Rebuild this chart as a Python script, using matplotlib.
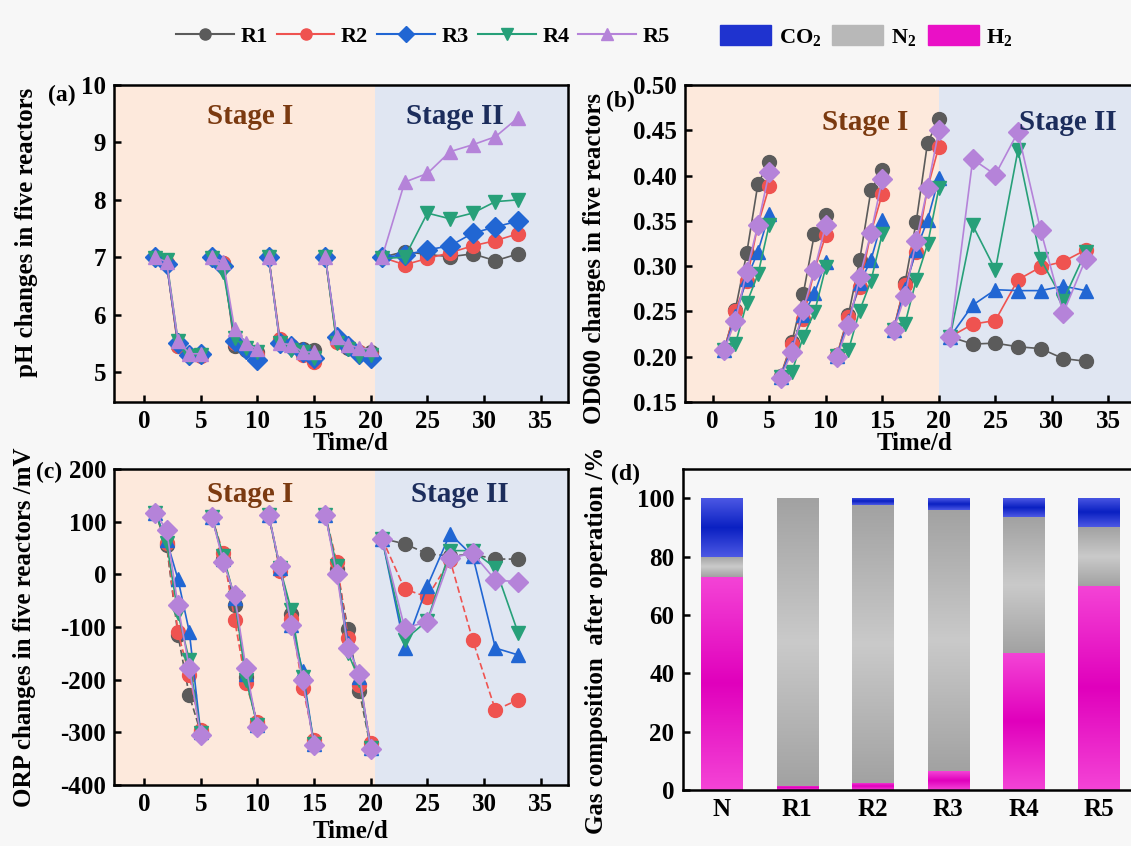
import matplotlib
matplotlib.use('Agg')
import matplotlib.pyplot as plt
import numpy as np
from matplotlib.lines import Line2D
from matplotlib.patches import Patch
from matplotlib.colors import LinearSegmentedColormap

plt.rcParams['font.family'] = ['Liberation Serif', 'DejaVu Serif']
plt.rcParams['font.weight'] = 'bold'
plt.rcParams['axes.labelweight'] = 'bold'
plt.rcParams['axes.unicode_minus'] = False
plt.rcParams['mathtext.fontset'] = 'custom'
plt.rcParams['mathtext.rm'] = 'Liberation Serif:bold'
plt.rcParams['mathtext.bf'] = 'Liberation Serif:bold'

# sampling days: four batch cycles in stage I, then stage II
days = [[1, 2, 3, 4, 5], [6, 7, 8, 9, 10], [11, 12, 13, 14, 15], [16, 17, 18, 19, 20],
        [21, 23, 25, 27, 29, 31, 33]]

# (a) pH
ph_r1 = [[7.0, 6.9, 5.45, 5.3, 5.3], [7.0, 6.9, 5.45, 5.38, 5.35], [7.0, 5.52, 5.45, 5.4, 5.38],
         [7.0, 5.55, 5.42, 5.35, 5.35], [7.0, 7.1, 7.05, 7.01, 7.06, 6.94, 7.06]]
ph_r2 = [[7.0, 6.9, 5.45, 5.3, 5.28], [7.0, 6.9, 5.5, 5.4, 5.3], [7.0, 5.58, 5.45, 5.3, 5.18],
         [7.0, 5.52, 5.45, 5.35, 5.3], [7.0, 6.87, 6.98, 7.08, 7.2, 7.29, 7.41]]
ph_r3 = [[7.0, 6.88, 5.5, 5.3, 5.32], [7.0, 6.85, 5.55, 5.4, 5.22], [7.0, 5.5, 5.45, 5.35, 5.25],
         [7.0, 5.62, 5.45, 5.32, 5.25], [7.0, 7.04, 7.13, 7.2, 7.42, 7.53, 7.63]]
ph_r4 = [[6.98, 6.95, 5.55, 5.28, 5.3], [6.98, 6.75, 5.6, 5.42, 5.35], [7.0, 5.5, 5.38, 5.35, 5.25],
         [7.0, 5.5, 5.4, 5.28, 5.3], [6.98, 7.0, 7.77, 7.67, 7.77, 7.97, 8.0]]
ph_r5 = [[7.0, 6.92, 5.55, 5.32, 5.32], [7.0, 6.92, 5.75, 5.5, 5.4], [7.0, 5.5, 5.48, 5.35, 5.35],
         [7.0, 5.62, 5.48, 5.42, 5.4], [7.0, 8.31, 8.46, 8.84, 8.96, 9.1, 9.43]]

# (b) OD600
od_r1 = [[0.207, 0.252, 0.314, 0.391, 0.415], [0.179, 0.216, 0.269, 0.336, 0.356],
         [0.202, 0.246, 0.307, 0.384, 0.406], [0.23, 0.281, 0.349, 0.436, 0.462],
         [0.222, 0.214, 0.215, 0.211, 0.209, 0.198, 0.195]]
od_r2 = [[0.207, 0.251, 0.284, 0.346, 0.388], [0.178, 0.214, 0.242, 0.296, 0.334],
         [0.202, 0.244, 0.277, 0.337, 0.38], [0.231, 0.279, 0.316, 0.386, 0.432],
         [0.222, 0.236, 0.24, 0.285, 0.299, 0.305, 0.318]]
od_r3 = [[0.207, 0.245, 0.286, 0.316, 0.358], [0.178, 0.21, 0.246, 0.27, 0.305],
         [0.201, 0.24, 0.281, 0.307, 0.351], [0.23, 0.275, 0.318, 0.351, 0.397],
         [0.222, 0.257, 0.274, 0.273, 0.273, 0.278, 0.273]]
od_r4 = [[0.207, 0.214, 0.259, 0.291, 0.346], [0.178, 0.183, 0.222, 0.249, 0.299],
         [0.201, 0.207, 0.251, 0.284, 0.336], [0.23, 0.236, 0.285, 0.324, 0.386],
         [0.222, 0.345, 0.296, 0.428, 0.308, 0.262, 0.316]]
od_r5 = [[0.207, 0.24, 0.294, 0.346, 0.404], [0.177, 0.205, 0.252, 0.296, 0.346],
         [0.2, 0.235, 0.288, 0.337, 0.396], [0.23, 0.267, 0.328, 0.386, 0.45],
         [0.222, 0.418, 0.401, 0.448, 0.34, 0.248, 0.308]]

# (c) ORP, mV
orp_r1 = [[117, 55, -115, -230, -300], [108, 30, -58, -195, -285], [113, 12, -75, -200, -322],
          [113, 10, -104, -222, -330], [68, 58, 39, 35, 38, 29, 29]]
orp_r2 = [[117, 60, -110, -191, -295], [108, 40, -87, -207, -280], [113, 6, -85, -215, -315],
          [113, 24, -120, -210, -320], [68, -28, -43, 27, -125, -258, -238]]
orp_r3 = [[117, 65, -9, -109, -300], [108, 30, -45, -190, -287], [113, 12, -96, -183, -322],
          [113, 10, -130, -195, -330], [68, -140, -22, 77, 35, -140, -153]]
orp_r4 = [[117, 60, -74, -163, -302], [108, 35, -45, -200, -287], [113, 12, -68, -195, -322],
          [113, 15, -150, -200, -330], [68, -124, -88, 45, 45, 12, -111]]
orp_r5 = [[117, 84, -59, -178, -305], [108, 24, -40, -178, -289], [113, 15, -96, -201, -324],
          [113, 1, -139, -189, -332], [68, -102, -90, 31, 40, -11, -14]]

# (d) gas composition, %
reactors = ['N', 'R1', 'R2', 'R3', 'R4', 'R5']
gas_h2 = [73, 1.5, 2.5, 6.5, 47, 70]
gas_n2 = [7, 98.5, 95, 89.5, 46.5, 20]
gas_co2 = [20, 0, 2.5, 4, 6.5, 10]

names = ['R1', 'R2', 'R3', 'R4', 'R5']
colors = ['#5b5b5b', '#ef5350', '#2166d3', '#27a079', '#b583d9']

bg = '#f7f7f7'
peach = '#fde9dc'
lblue = '#e0e6f2'

fig = plt.figure(figsize=(11.31, 8.46), dpi=100, facecolor=bg)


def style_axes(ax):
    for s in ax.spines.values():
        s.set_linewidth(1.8)
    ax.tick_params(direction='in', length=5, width=1.8, labelsize=18, pad=6)


def stage_panel(ax, series, markers, xlim, ylim, split, stage_y, stage_x, dashed=()):
    ax.axvspan(-10, split, color=peach, zorder=0, lw=0)
    ax.axvspan(split, 60, color=lblue, zorder=0, lw=0)
    for i, vals in enumerate(series):
        ls = (0, (4, 2)) if i in dashed else '-'
        for d, v in zip(days, vals):
            ax.plot(d, v, color=colors[i], lw=1.2, ls=ls, marker=markers[i], ms=10,
                    mec=colors[i], mfc=colors[i], zorder=3 + i)
    ax.set_xlim(*xlim)
    ax.set_ylim(*ylim)
    ax.set_xticks(range(0, 40, 5))
    ax.text(stage_x[0], stage_y, 'Stage I', color='#7b3a10', fontsize=21,
            ha='center', va='center', zorder=10)
    ax.text(stage_x[1], stage_y, 'Stage II', color='#1c2d5c', fontsize=21,
            ha='center', va='center', zorder=10)
    style_axes(ax)


# (a)
ax_a = fig.add_axes([0.1012, 0.5248, 0.401, 0.3747])
stage_panel(ax_a, [ph_r1, ph_r2, ph_r3, ph_r4, ph_r5], ['o', 'o', 'D', 'v', '^'],
            (-2.6, 37.4), (4.48, 10), 20.4, 9.45, (9.4, 27.4))
ax_a.set_yticks(range(5, 11))
ax_a.set_xlabel('Time/d', fontsize=18, fontweight='bold')
ax_a.xaxis.set_label_coords(0.521, -0.095)

# (b)
ax_b = fig.add_axes([0.6057, 0.5248, 0.3993, 0.3747])
stage_panel(ax_b, [od_r1, od_r2, od_r3, od_r4, od_r5], ['o', 'o', '^', 'v', 'D'],
            (-2.45, 37.5), (0.15, 0.50), 20.0, 0.459, (13.5, 31.4))
ax_b.set_yticks(np.arange(0.15, 0.501, 0.05))
ax_b.yaxis.set_major_formatter(plt.FormatStrFormatter('%.2f'))
ax_b.set_xlabel('Time/d', fontsize=18, fontweight='bold')
ax_b.xaxis.set_label_coords(0.509, -0.095)

# (c)
ax_c = fig.add_axes([0.1012, 0.0721, 0.401, 0.3735])
stage_panel(ax_c, [orp_r1, orp_r2, orp_r3, orp_r4, orp_r5], ['o', 'o', '^', 'v', 'D'],
            (-2.6, 37.4), (-400, 200), 20.4, 151, (9.4, 27.9), dashed=(0, 1))
ax_c.set_yticks(range(-400, 201, 100))
ax_c.set_xlabel('Time/d', fontsize=18, fontweight='bold')
ax_c.xaxis.set_label_coords(0.521, -0.11)

# (d)
ax_d = fig.add_axes([0.6036, 0.0662, 0.4014, 0.3794])
ax_d.set_facecolor(bg)
x = np.arange(len(reactors))
bottom_n2 = np.array(gas_h2)
bottom_co2 = bottom_n2 + np.array(gas_n2)
bars_h2 = ax_d.bar(x, gas_h2, width=0.545, color='#e600bf', lw=0, zorder=1)
bars_n2 = ax_d.bar(x, gas_n2, width=0.545, bottom=bottom_n2, color='#b8b8b8', lw=0, zorder=1)
bars_co2 = ax_d.bar(x, gas_co2, width=0.545, bottom=bottom_co2, color='#1a2fcc', lw=0, zorder=1)


def fill_gradient(ax, bars, edge, mid):
    cmap = LinearSegmentedColormap.from_list('g', [edge, mid, edge])
    grad = np.linspace(0, 1, 128).reshape(-1, 1)
    for b in bars:
        if b.get_height() <= 0:
            continue
        x0, y0 = b.get_x(), b.get_y()
        im = ax.imshow(grad, cmap=cmap, origin='lower', aspect='auto', zorder=2,
                       extent=[x0, x0 + b.get_width(), y0, y0 + b.get_height()])
        im.set_clip_path(b)


fill_gradient(ax_d, bars_h2, '#f444d6', '#e000bc')
fill_gradient(ax_d, bars_n2, '#a2a2a2', '#cacaca')
fill_gradient(ax_d, bars_co2, '#4c58e4', '#0a20c2')
ax_d.set_xlim(-0.52, 5.5)
ax_d.set_ylim(0, 110)
ax_d.set_xticks(x)
ax_d.set_xticklabels(reactors)
ax_d.set_yticks(range(0, 101, 20))
style_axes(ax_d)
ax_d.tick_params(axis='x', length=0)

# y labels
fig.text(27 / 1131, 1 - 232 / 846, 'pH changes in five reactors', rotation=90,
         ha='center', va='center', fontsize=18)
fig.text(595 / 1131, 1 - 258 / 846, 'OD600 changes in five reactors', rotation=90,
         ha='center', va='center', fontsize=18)
fig.text(25 / 1131, 1 - 627 / 846, 'ORP changes in five reactors /mV', rotation=90,
         ha='center', va='center', fontsize=18)
fig.text(597 / 1131, 1 - 640 / 846, 'Gas composition  after operation /%', rotation=90,
         ha='center', va='center', fontsize=18)

# panel letters
for s, (px, py) in zip(['(a)', '(b)', '(c)', '(d)'], [(62, 95), (620, 101), (49, 472), (626, 474)]):
    fig.text(px / 1131, 1 - py / 846, s, ha='center', va='center', fontsize=17)

# legends
legend_markers = ['o', 'o', 'D', 'v', '^']
line_handles = [Line2D([], [], color=c, marker=m, ms=8, lw=1.5, label=n)
                for n, c, m in zip(names, colors, legend_markers)]
fig.legend(handles=line_handles, loc='center', bbox_to_anchor=(0.374, 1 - 37 / 846), ncol=5,
           frameon=False, fontsize=16, handlelength=2.6, handletextpad=0.3, columnspacing=0.4)
patch_handles = [Patch(color='#1f33cf', label=r'CO$_\mathbf{2}$'),
                 Patch(color='#b8b8b8', label=r'N$_\mathbf{2}$'),
                 Patch(color='#ea10c6', label=r'H$_\mathbf{2}$')]
fig.legend(handles=patch_handles, loc='center', bbox_to_anchor=(0.766, 1 - 37 / 846), ncol=3,
           frameon=False, fontsize=16, handlelength=2.3, handleheight=1.0,
           handletextpad=0.35, columnspacing=0.5)

fig.savefig('out.png', dpi=100, facecolor=bg)
